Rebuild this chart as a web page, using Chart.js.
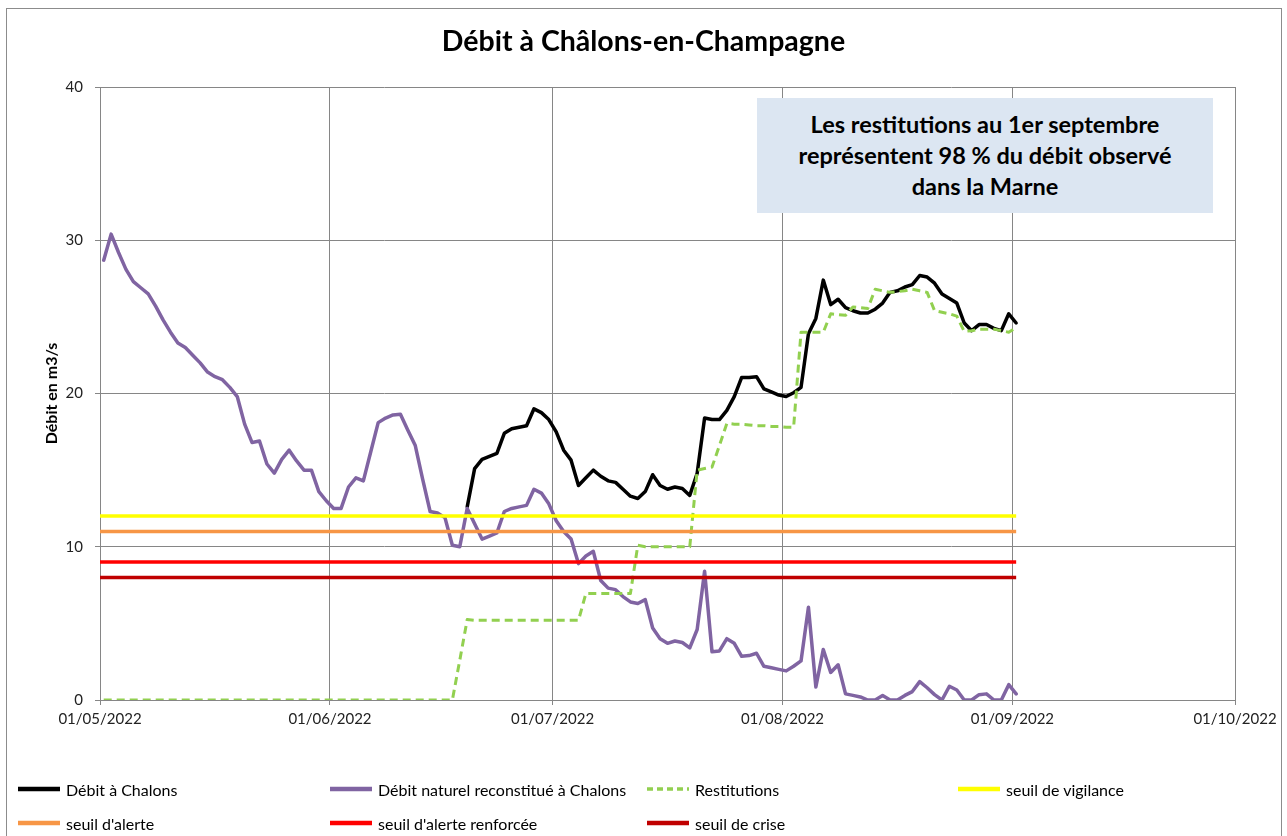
<!DOCTYPE html>
<html><head><meta charset="utf-8">
<script src="https://cdn.jsdelivr.net/npm/chart.js@4"></script>
<style>
html,body{margin:0;padding:0;background:#fff;overflow:hidden;width:1287px;height:836px;}
#frame{position:absolute;left:6px;top:8px;width:1276px;height:900px;border:1px solid #8c8c8c;box-sizing:border-box;}
#wrap{position:absolute;left:0;top:0;width:1287px;height:836px;}
#title{position:absolute;left:0;width:1287px;top:23px;text-align:center;font:bold 28.5px Lato;color:#000;}
#note{position:absolute;left:757px;top:98px;width:456px;height:115px;background:#dce6f2;display:flex;align-items:center;justify-content:center;text-align:center;font:bold 23.5px Lato;line-height:31px;color:#000;}
.item{position:absolute;display:flex;align-items:center;font:16px Lato;color:#000;height:20px;white-space:nowrap;}
.item svg{margin-right:6px;}
</style></head>
<body>
<div id="frame"></div>
<div id="wrap"><canvas id="c" width="1287" height="836"></canvas></div>
<div id="title">Débit à Châlons-en-Champagne</div>
<div id="note">Les restitutions au 1er septembre<br>représentent 98 % du débit observé<br>dans la Marne</div>
<div id="legend"></div>
<script>
// x axis: day offsets from 01/05/2022
const monthStarts = [0, 31, 61, 92, 123, 153];
const monthLabels = ['01/05/2022','01/06/2022','01/07/2022','01/08/2022','01/09/2022','01/10/2022'];
const yTicks = [0, 10, 20, 30, 40];
const lastDay = 123;

// Débit à Chalons (starts on day 49)
const chalonsStart = 49;
const chalons = [12.6,15.1,15.7,15.9,16.1,17.4,17.7,17.8,17.9,19.0,18.75,18.3,17.5,16.3,15.65,14.0,14.5,15.0,14.6,14.3,
  14.2,13.75,13.3,13.15,13.6,14.7,14.0,13.75,13.9,13.8,13.35,14.8,18.4,18.3,18.3,18.9,19.8,21.05,21.05,21.1,
  20.3,20.1,19.9,19.8,20.05,20.4,23.9,24.9,27.4,25.8,26.15,25.6,25.4,25.25,25.25,25.5,25.9,26.6,26.7,26.95,
  27.1,27.7,27.6,27.2,26.5,26.2,25.9,24.6,24.1,24.5,24.5,24.25,24.1,25.2,24.6];

// Débit naturel reconstitué (day 0 .. 123)
const naturel = [28.7,30.4,29.2,28.1,27.3,26.9,26.5,25.7,24.8,24.0,23.3,23.0,22.5,22.0,21.4,21.1,20.9,20.4,19.8,18.0,
  16.8,16.9,15.4,14.8,15.7,16.3,15.6,15.0,15.0,13.6,13.0,12.5,12.5,13.9,14.5,14.3,16.2,18.1,18.4,18.6,
  18.65,17.6,16.6,14.4,12.3,12.2,11.9,10.1,10.0,12.5,11.5,10.5,10.7,10.9,12.3,12.5,12.6,12.7,13.75,13.5,
  12.8,11.7,11.0,10.5,8.9,9.4,9.7,7.8,7.3,7.2,6.75,6.4,6.3,6.55,4.7,4.0,3.7,3.85,3.75,3.4,
  4.6,8.4,3.15,3.2,4.0,3.7,2.85,2.9,3.05,2.2,2.1,2.0,1.9,2.2,2.55,6.05,0.85,3.3,1.8,2.3,
  0.4,0.3,0.2,0,0,0.3,0,0,0.3,0.55,1.2,0.8,0.35,0,0.9,0.65,0,0,0.35,0.4,
  0,0,1.0,0.4];

// Restitutions (day 0 .. 123)
const restitutions = [0,0,0,0,0,0,0,0,0,0,0,0,0,0,0,0,0,0,0,0,
  0,0,0,0,0,0,0,0,0,0,0,0,0,0,0,0,0,0,0,0,
  0,0,0,0,0,0,0,0,2.6,5.25,5.2,5.2,5.2,5.2,5.2,5.2,5.2,5.2,5.2,5.2,
  5.2,5.2,5.2,5.2,5.2,6.95,6.95,6.95,6.95,6.95,6.95,6.95,10.1,10.0,10.0,10.0,10.0,10.0,10.0,10.0,
  15.0,15.1,15.2,16.6,18.05,18.0,18.0,17.95,17.9,17.9,17.85,17.85,17.8,17.8,24.0,24.0,24.0,24.0,25.2,25.15,
  25.1,25.65,25.6,25.55,26.8,26.7,26.6,26.65,26.7,26.8,26.7,26.6,25.4,25.3,25.2,25.05,24.05,24.1,24.2,24.2,
  24.2,24.1,24.0,24.3];

const seuilNames = ['seuil de vigilance', "seuil d'alerte", "seuil d'alerte renforcée", 'seuil de crise'];
const seuilValues = [12, 11, 9, 8];
const seuilColors = ['#FFFF00', '#F79646', '#FF0000', '#C00000'];

const pts = (arr, start) => arr.map((v, i) => ({x: start + i, y: v}));
const base = {pointRadius: 0, pointHoverRadius: 0, borderJoinStyle: 'round', borderCapStyle: 'round', tension: 0, fill: false};

const datasets = [
  Object.assign({}, base, {label: 'Débit à Chalons', data: pts(chalons, chalonsStart), borderColor: '#000000', borderWidth: 3.5, order: 7}),
  Object.assign({}, base, {label: 'Débit naturel reconstitué à Chalons', data: pts(naturel, 0), borderColor: '#8064A2', borderWidth: 3.5, order: 6}),
  Object.assign({}, base, {label: 'Restitutions', data: pts(restitutions, 0), borderColor: '#92D050', borderWidth: 3, borderDash: [8, 5], borderCapStyle: 'butt', order: 5}),
];
seuilNames.forEach((n, k) => {
  datasets.push(Object.assign({}, base, {label: n, data: [{x: monthStarts[0] - 0.5, y: seuilValues[k]}, {x: lastDay, y: seuilValues[k]}],
    borderColor: seuilColors[k], borderWidth: 3.5, borderCapStyle: 'butt', order: 4 - k}));
});

const grid = '#868686';
const tickFont = {family: 'Lato', size: 15};
new Chart(document.getElementById('c'), {
  type: 'line',
  data: {datasets},
  options: {
    responsive: false, animation: false,
    layout: {padding: {top: 87, right: 52, bottom: 100, left: 0}},
    plugins: {legend: {display: false}, tooltip: {enabled: false}, title: {display: false}},
    scales: {
      x: {
        type: 'linear', min: monthStarts[0] - 0.5, max: monthStarts[monthStarts.length - 1] - 0.5,
        afterBuildTicks: s => { s.ticks = monthStarts.map(d => ({value: d - 0.5})); },
        afterFit: s => { s.height = 36; },
        ticks: {autoSkip: false, maxRotation: 0, padding: 5, color: '#222', font: tickFont,
          callback: v => { const i = monthStarts.indexOf(Math.round(v + 0.5)); return i >= 0 ? monthLabels[i] : ''; }},
        grid: {color: grid, lineWidth: 1, tickLength: 5},
        border: {color: grid, width: 1}
      },
      y: {
        min: yTicks[0], max: yTicks[yTicks.length - 1],
        afterBuildTicks: s => { s.ticks = yTicks.map(v => ({value: v})); },
        afterFit: s => { s.width = 100; },
        ticks: {padding: 12, color: '#222', font: tickFont},
        grid: {color: grid, lineWidth: 1, tickLength: 5},
        border: {color: grid, width: 1},
        title: {display: true, text: 'Débit en m3/s', color: '#000', font: {family: 'Lato', size: 16, weight: 'bold'}, padding: {top: 42, bottom: 4}}
      }
    }
  }
});

// HTML legend built from the datasets
const legendPos = [[18, 779], [330, 779], [647, 779], [958, 779], [18, 813], [330, 813], [647, 813]];
const leg = document.getElementById('legend');
datasets.forEach((d, i) => {
  const it = document.createElement('div');
  it.className = 'item';
  it.style.left = legendPos[i][0] + 'px';
  it.style.top = legendPos[i][1] + 'px';
  const dash = d.borderDash ? ' stroke-dasharray="6,4"' : '';
  it.innerHTML = '<svg width="42" height="8"><line x1="0" y1="4" x2="42" y2="4" stroke="' + d.borderColor + '" stroke-width="' + (d.borderDash ? 3.5 : 4.5) + '"' + dash + '/></svg>';
  const t = document.createElement('span'); t.textContent = d.label; it.appendChild(t);
  leg.appendChild(it);
});
</script>
</body></html>
